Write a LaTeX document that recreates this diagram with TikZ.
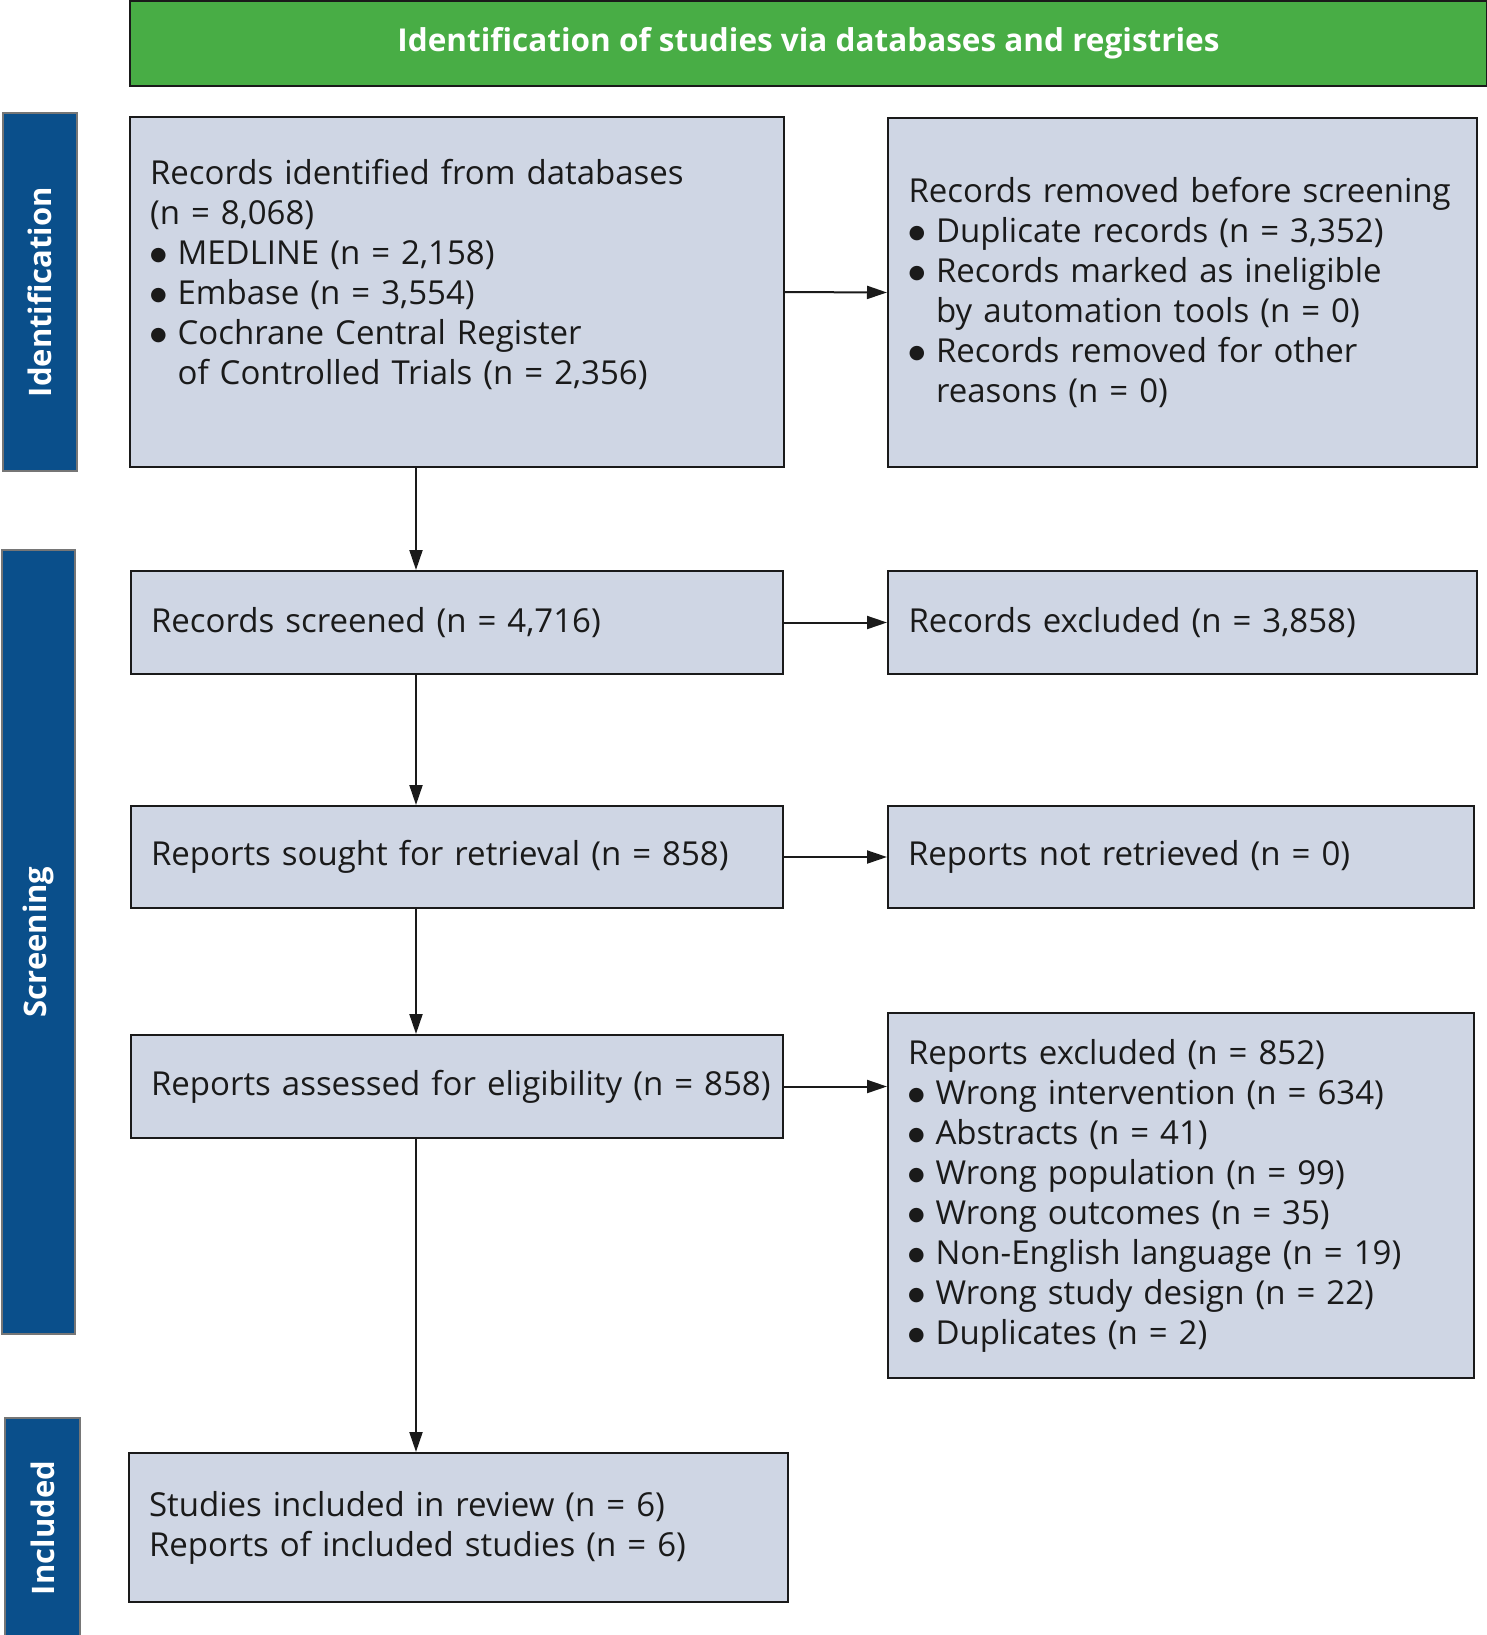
\documentclass[tikz,border=0pt]{standalone}
\usepackage{fontspec}
\setmainfont{Open Sans}
\newfontfamily\symfont{DejaVu Sans}
\usepackage{tikz}
\usetikzlibrary{positioning,arrows.meta,calc}
\definecolor{leaf}{HTML}{48AD45}
\definecolor{navy}{HTML}{0A4F8B}
\definecolor{pale}{HTML}{CFD6E4}
\definecolor{ink}{HTML}{1A1A1A}
\newcommand{\bul}{\raisebox{2pt}{\symfont\fontsize{9.5}{12}\selectfont ●}\ }
\newcommand{\hang}{\hphantom{\bul}}
\tikzset{
  font=\fontsize{16.5}{20}\selectfont,
  >={Triangle[length=10pt,width=6.5pt]},
  head/.style  = {draw=ink, fill=leaf, line width=1pt, text=white,
                  font=\fontsize{15.75}{20}\selectfont\bfseries},
  phase/.style = {draw=ink!60, fill=navy, line width=0.6pt, text=white, rotate=90,
                  font=\fontsize{15.5}{20}\selectfont\bfseries},
  box/.style   = {draw=ink, fill=pale, line width=1pt, align=left, text=ink,
                  inner xsep=10pt, text width=#1},
  box/.default = 6cm,
  flow/.style  = {->, draw=ink, line width=1pt},
}

\begin{document}
\begin{tikzpicture}[x=0.5pt, y=-0.5pt]
\useasboundingbox (0,0) rectangle (1487,1635);

% ---- header and phase tabs --------------------------------------------
\node[head, minimum width=678.5pt, minimum height=42.5pt] at (808.5,43.5) (hd)
  {Identification of studies via databases and registries};
\node[phase, minimum width=179pt, minimum height=37pt] at (40,292) (tid) {Identification};
\node[phase, minimum width=392pt, minimum height=36.5pt] at (38.5,942) (tsc) {Screening};
\node[phase, minimum width=110pt, minimum height=37.5pt] at (42.5,1528) (tin) {Included};

% ---- left column -------------------------------------------------------
\node[box=307pt, minimum width=327pt, minimum height=175pt] at (457,292) (ident)
  {Records identified from databases\\
   (n = 8,068)\\
   \bul MEDLINE (n = 2,158)\\
   \bul Embase (n = 3,554)\\
   \bul Cochrane Central Register\\
   \hang of Controlled Trials (n = 2,356)\\
   \mbox{}};
\node[box=306pt, minimum width=326pt, minimum height=51.5pt] at (457,622.5) (scr)
  {Records screened (n = 4,716)};
\node[box=306pt, minimum width=326pt, minimum height=51pt] at (457,857) (sought)
  {Reports sought for retrieval (n = 858)};
\node[box=306pt, minimum width=326pt, minimum height=51.5pt] at (457,1086.5) (assess)
  {\mbox{Reports assessed for eligibility (n = 858)}};
\node[box=309.5pt, minimum width=329.5pt, minimum height=74.5pt] at (458.5,1527.5) (incl)
  {Studies included in review (n = 6)\\
   Reports of included studies (n = 6)};

% ---- right column ------------------------------------------------------
\node[box=274pt, minimum width=294.5pt, minimum height=174.5pt] at (1182.5,292.5) (removed)
  {Records removed before screening\\
   \bul Duplicate records (n = 3,352)\\
   \bul Records marked as ineligible\\
   \hang by automation tools (n = 0)\\
   \bul Records removed for other\\
   \hang reasons (n = 0)};
\node[box=274pt, minimum width=294.5pt, minimum height=51.5pt] at (1182.5,622.5) (excl)
  {Records excluded (n = 3,858)};
\node[box=273pt, minimum width=293pt, minimum height=51pt] at (1181,857) (notret)
  {Reports not retrieved (n = 0)};
\node[box=273pt, minimum width=293pt, minimum height=182.5pt] at (1181,1195.5) (rexcl)
  {Reports excluded (n = 852)\\
   \bul Wrong intervention (n = 634)\\
   \bul Abstracts (n = 41)\\
   \bul Wrong population (n = 99)\\
   \bul Wrong outcomes (n = 35)\\
   \bul Non-English language (n = 19)\\
   \bul Wrong study design (n = 22)\\
   \bul Duplicates (n = 2)};

% ---- connectors --------------------------------------------------------
\coordinate (spine) at (416,0);
\draw[flow] (ident.south -| spine) -- (scr.north -| spine);
\draw[flow] (scr.south -| spine) -- (sought.north -| spine);
\draw[flow] (sought.south -| spine) -- (assess.north -| spine);
\draw[flow] (assess.south -| spine) -- (incl.north -| spine);

\draw[flow] (ident.east) -- (removed.west);
\draw[flow] (scr.east) -- (excl.west);
\draw[flow] (sought.east) -- (notret.west);
\draw[flow] (assess.east) -- (assess.east -| rexcl.west);

\end{tikzpicture}
\end{document}
